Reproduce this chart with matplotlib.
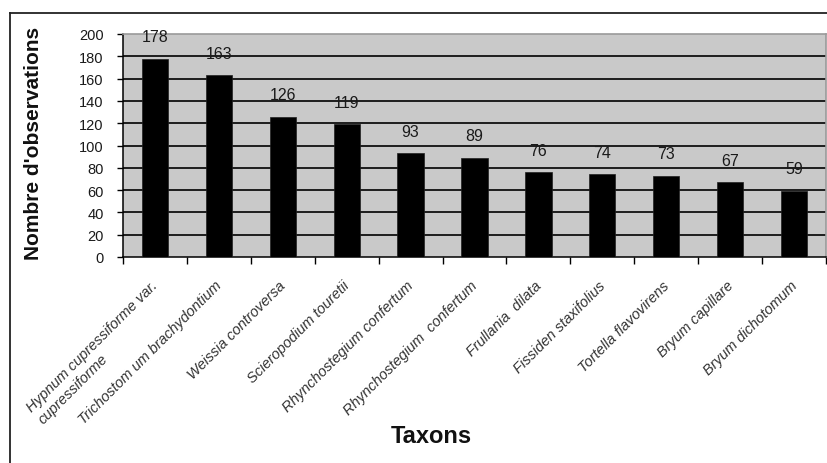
import matplotlib
matplotlib.use("Agg")
import matplotlib.pyplot as plt
from matplotlib.lines import Line2D
from matplotlib.transforms import ScaledTranslation
import numpy as np

plt.rcParams['font.family'] = ['Liberation Sans', 'DejaVu Sans']

taxa = [
    "Hypnum cupressiforme var.\ncupressiforme",
    "Trichostom um brachydontium",
    "Weissia controversa",
    "Scieropodium touretii",
    "Rhynchostegium confertum",
    "Rhynchostegium  confertum",
    "Frullania  dilata",
    "Fissiden staxifolius",
    "Tortella flavovirens",
    "Bryum capillare",
    "Bryum dichotomum",
]
observations = [178, 163, 126, 119, 93, 89, 76, 74, 73, 67, 59]
y_ticks = [0, 20, 40, 60, 80, 100, 120, 140, 160, 180, 200]

W, H = 828, 464
fig = plt.figure(figsize=(W / 100, H / 100), dpi=100)
fig.patch.set_facecolor('white')

left, right, top, bottom = 123, 826, 35, 258
ax = fig.add_axes([left / W, 1 - bottom / H, (right - left) / W, (bottom - top) / H])
ax.set_facecolor('#c9c9c9')

x = np.arange(len(taxa))
ax.bar(x, observations, width=0.41, color='black', edgecolor='#202020', linewidth=0.5, zorder=3)

ax.set_xlim(-0.5, len(taxa) - 0.5)
ax.set_ylim(0, 200)

# gridlines
for v in y_ticks[1:-1]:
    ax.axhline(v, color='black', linewidth=1.2, zorder=2)

# spines
ax.spines['left'].set_color('black')
ax.spines['bottom'].set_color('black')
ax.spines['left'].set_linewidth(1.1)
ax.spines['bottom'].set_linewidth(1.1)
for s in ('top', 'right'):
    ax.spines[s].set_color('#9a9a9a')
    ax.spines[s].set_linewidth(1.2)

ax.set_yticks(y_ticks)
ax.set_yticklabels([str(v) for v in y_ticks], fontsize=10.5, color='#1a1a1a')
ax.tick_params(axis='y', direction='out', length=4, width=1, pad=10, color='black')

# major ticks at category boundaries, labels at centers via minor ticks
ax.set_xticks(np.arange(-0.5, len(taxa), 1.0))
ax.set_xticklabels([])
ax.tick_params(axis='x', which='major', direction='out', length=5, width=1, color='black')
ax.set_xticks(x, minor=True)
ax.set_xticklabels(taxa, minor=True, rotation=45, ha='right', va='top',
                   rotation_mode='anchor', fontsize=10.5, style='italic',
                   color='#333333', multialignment='left')
ax.tick_params(axis='x', which='minor', length=0, pad=15)
shift = ScaledTranslation(-4 / 100, 0, fig.dpi_scale_trans)
for lbl in ax.get_xticklabels(minor=True):
    lbl.set_transform(lbl.get_transform() + shift)

# value labels
for xi, v in zip(x, observations):
    ax.annotate(str(v), (xi, v), xytext=(0, 16), textcoords='offset points',
                ha='center', va='center', fontsize=11.5, color='#1a1a1a', zorder=4)

fig.text(34 / W, 1 - 143 / H, "Nombre d'observations", rotation=90, ha='center', va='center',
         fontsize=15, fontweight='bold', color='#111111')
fig.text(431 / W, 1 - 437 / H, "Taxons", ha='center', va='center',
         fontsize=17, fontweight='bold', color='#111111')

# outer border (left and top only visible)
fig.add_artist(Line2D([10 / W, 10 / W], [0, 1 - 14 / H], transform=fig.transFigure,
                      color='#222222', linewidth=1.3))
fig.add_artist(Line2D([10 / W, 1], [1 - 14 / H, 1 - 14 / H], transform=fig.transFigure,
                      color='#222222', linewidth=1.3))

fig.savefig('out.png', dpi=100, facecolor='white')
